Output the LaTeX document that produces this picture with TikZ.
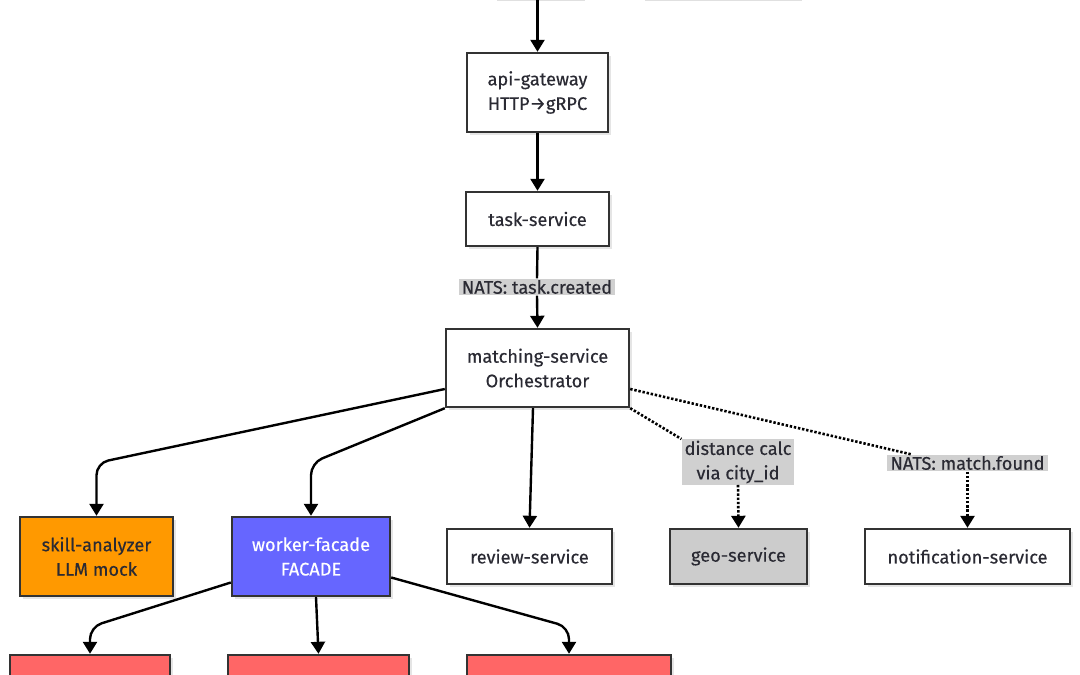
\documentclass[tikz,border=0pt]{standalone}
\usepackage{fontspec}
\setmainfont{Fira Sans}[FakeBold=0.35]
\usetikzlibrary{arrows.meta,shadows,calc}
\definecolor{bord}{HTML}{333333}
\definecolor{lblbg}{HTML}{D0D0D0}
\definecolor{orng}{HTML}{FF9900}
\definecolor{purp}{HTML}{6666FF}
\definecolor{redf}{HTML}{FF6666}
\definecolor{geof}{HTML}{CCCCCC}
\definecolor{txt}{HTML}{2A2A33}
\tikzset{
  box/.style={draw=bord, line width=2.4pt, fill=white, align=center, inner sep=0pt,
    text=txt, font=\fontsize{18.2}{24.5}\selectfont,
    drop shadow={shadow xshift=3pt, shadow yshift=-3pt, opacity=0.10, fill=black}},
  lbl/.style={fill=lblbg, align=center, inner xsep=3pt, inner ysep=1.5pt, text=txt,
    font=\fontsize{18.2}{24.5}\selectfont},
  conn/.style={line width=2.4pt, draw=black, -{Triangle[width=14pt,length=12pt]}},
  plain/.style={line width=2.4pt, draw=black},
  dotc/.style={line width=2.6pt, draw=black, dash pattern=on 2.4pt off 1.8pt},
  dota/.style={dotc, -{Triangle[width=14pt,length=12pt]}},
}
\begin{document}
\begin{tikzpicture}[x=1pt,y=-1pt]
\useasboundingbox (0,0) rectangle (1080,675);
\fill[white] (0,0) rectangle (1080,675);
\clip (0,0) rectangle (1080,675);
% faint shadow remnants of nodes cut off at the top
\draw[black!12, line width=1.5pt] (497,0.6) -- (585,0.6);
\draw[black!12, line width=1.5pt] (645,0.6) -- (802,0.6);

\coordinate (topin) at (537.5,0);
\node[box, minimum width=141pt, minimum height=79pt] (api) at (537.5,92.5) {api-gateway\\HTTP→gRPC};
\node[box, minimum width=143pt, minimum height=54pt] (task) at (537.5,219) {task-service};
\node[lbl] (l1) at (537,287) {NATS: task.created};
\node[box, minimum width=183pt, minimum height=78pt] (match) at (537.5,368) {matching-service\\Orchestrator};

\node[box, fill=orng, minimum width=153pt, minimum height=79pt] (skill) at (96.5,556.5) {skill-analyzer\\LLM mock};
\node[box, fill=purp, text=white, minimum width=158pt, minimum height=79pt] (worker) at (311,556.5) {worker-facade\\FACADE};
\node[box, minimum width=165pt, minimum height=55pt] (review) at (529.5,556.5) {review-service};
\node[box, fill=geof, minimum width=137pt, minimum height=55pt] (geo) at (738.5,556.5) {geo-service};
\node[box, minimum width=205pt, minimum height=55pt] (notif) at (967.5,556.5) {notification-service};

\node[lbl] (l2) at (738,462) {distance calc\\via city\_id};
\node[lbl] (l3) at (967.5,463) {NATS: match.found};

\node[box, fill=redf, minimum width=160pt, minimum height=79pt] (b1) at (90,694.5) {};
\node[box, fill=redf, minimum width=181pt, minimum height=79pt] (b2) at (318.5,694.5) {};
\node[box, fill=redf, minimum width=204pt, minimum height=79pt] (b3) at (569,694.5) {};

% connectors
\draw[conn] (topin) -- (api.north);
\draw[conn] (api.south) -- (task.north);
\draw[plain] (task.south) -- (l1.north);
\draw[conn] (l1.south) -- (match.north);

\draw[conn, rounded corners=12pt] ([yshift=-21pt]match.west) -- (skill.north |- 0,463) -- (skill.north);
\draw[conn, rounded corners=12pt] (match.south west) -- (worker.north |- 0,463) -- (worker.north);
\draw[conn] ([xshift=-4.5pt]match.south) -- (review.north);
\draw[dotc] (match.south east) -- (l2.north west);
\draw[dota] (l2.south) -- (geo.north);
\draw[dotc] ([yshift=-21pt]match.east) -- ($(l3.north west)!0.15!(l3.north east)$);
\draw[dota] (l3.south) -- (notif.north);

\draw[conn, rounded corners=12pt] ([yshift=-26pt]worker.west) -- (b1.north |- 0,627) -- (b1.north);
\draw[conn] ([xshift=5pt]worker.south) -- (b2.north);
\draw[conn, rounded corners=12pt] ([yshift=-21pt]worker.east) -- (b3.north |- 0,627) -- (b3.north);
\end{tikzpicture}
\end{document}
